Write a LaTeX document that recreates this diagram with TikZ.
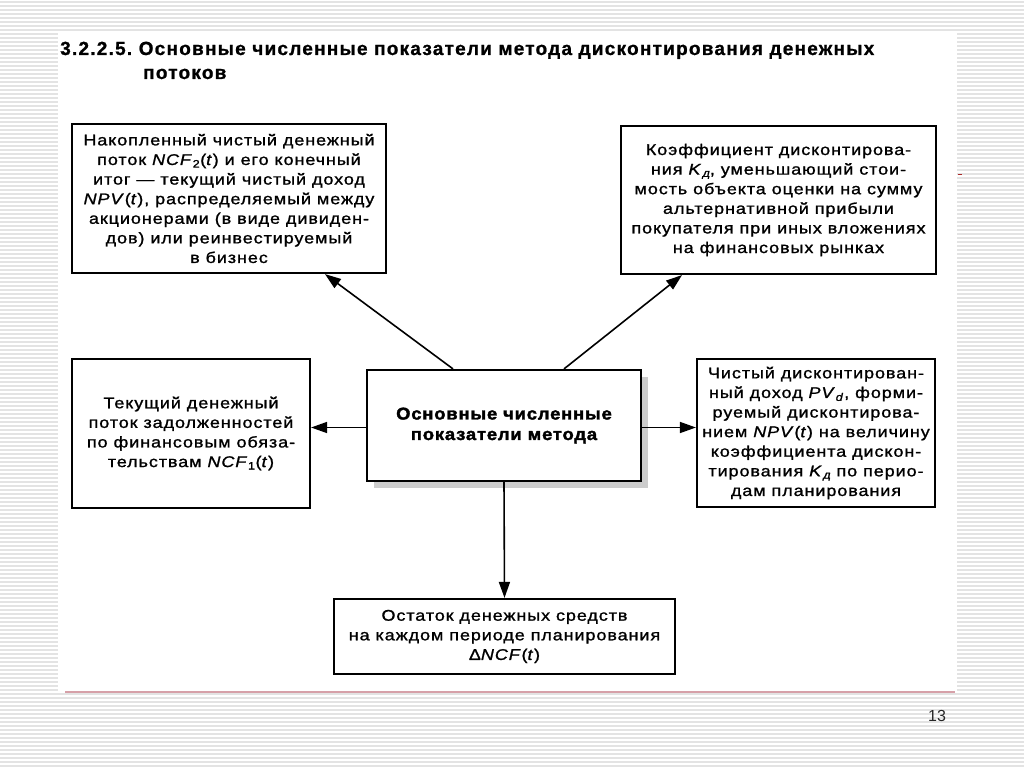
\documentclass[tikz,border=0pt]{standalone}
\usepackage{fontspec}
\setmainfont{Liberation Sans}
\newfontfamily\boxfont[LetterSpace=6,FakeStretch=1.16,FakeBold=1.2]{Liberation Sans}
\newfontfamily\headfont[LetterSpace=6.5,FakeBold=1]{Liberation Sans Bold}
\newfontfamily\ctrfont[LetterSpace=5,FakeStretch=1.08,FakeBold=2]{Liberation Sans Bold}
\newcommand\sld{{\addfontfeature{FakeSlant=0.2}д}}
\usetikzlibrary{arrows.meta,calc,shadows}

\tikzstyle{stripe}=[draw=gray!22,line width=1.5pt]
\tikzstyle{bx}=[draw,line width=2.2pt,fill=white,align=center,inner sep=0pt,
  font=\boxfont\fontsize{15.5}{19.6}\selectfont]
\tikzstyle{arr}=[-{Triangle[length=16pt,width=11pt]},line width=1.6pt]
\def\dy{2pt}

\begin{document}
\begin{tikzpicture}[x=1pt,y=-1pt]
			\useasboundingbox (0,0) rectangle (1024,767);
			\foreach \y in {2,6,...,766} {
				\draw[stripe] (0,\y) -- (1024,\y);
			}
			\fill[white] (58,33) rectangle (957,692);
			\draw[line width=2pt,color={rgb,255:red,214;green,160;blue,168}] (65,692) -- (955,692);
			\draw[line width=1pt,color={rgb,255:red,170;green,40;blue,40}] (958,175) -- (962,175);
			% title
			\node[anchor=base west,inner sep=0pt,font=\headfont\fontsize{19}{22}\selectfont] (ttl) at (60,55)
				{3.2.2.5.\ Основные численные показатели метода дисконтирования денежных};
			\node[anchor=base west,inner sep=0pt,font=\headfont\fontsize{19}{22}\selectfont] (ttl2) at (143,79) {потоков};
			% boxes
			\node[bx,minimum width=314pt,minimum height=149pt] (acc) at (229,198.5)
				{Накопленный чистый денежный\\
				поток \textit{NCF}\textsubscript{2}(\textit{t}) и его конечный\\
				итог — текущий чистый доход\\
				\textit{NPV}(\textit{t}), распределяемый между\\
				акционерами (в виде дивиден-\\
				дов) или реинвестируемый\\
				в бизнес};
			\node[bx,minimum width=315pt,minimum height=148pt] (coef) at (778.5,200)
				{Коэффициент дисконтирова-\\
				ния \textit{K}\textsubscript{\sld}, уменьшающий стои-\\
				мость объекта оценки на сумму\\
				альтернативной прибыли\\
				покупателя при иных вложениях\\
				на финансовых рынках};
			\node[bx,minimum width=238pt,minimum height=149pt] (cur) at (191,433.5)
				{Текущий денежный\\
				поток задолженностей\\
				по финансовым обяза-\\
				тельствам \textit{NCF}\textsubscript{1}(\textit{t})};
			\node[bx,minimum width=274pt,minimum height=111pt,
				drop shadow={shadow xshift=7pt,shadow yshift=-7pt,fill=gray!40,opacity=1},
				font=\ctrfont\fontsize{17}{20.5}\selectfont] (ctr) at (504,425.5)
				{Основные численные\\показатели метода};
			\node[bx,minimum width=238pt,minimum height=148pt] (disc) at (816,433)
				{Чистый дисконтирован-\\
				ный доход \textit{PV}\textsubscript{\textit{d}}, форми-\\
				руемый дисконтирова-\\
				нием \textit{NPV}(\textit{t}) на величину\\
				коэффициента дискон-\\
				тирования \textit{K}\textsubscript{\sld} по перио-\\
				дам планирования};
			\node[bx,minimum width=341pt,minimum height=75pt] (rest) at (504.5,636.5)
				{Остаток денежных средств\\
				на каждом периоде планирования\\
				Δ\textit{NCF}(\textit{t})};
			% arrows
			\draw[arr] ($(ctr.north)+(-51,0)$) -- ($(acc.south)+(96,0)$);
			\draw[arr] ($(ctr.north)+(60,0)$) -- ($(coef.south)+(-96.5,0)$);
			\draw[arr] ([yshift=-\dy]ctr.west) -- ([yshift=-\dy]ctr.west -| cur.east);
			\draw[arr] ([yshift=-\dy]ctr.east) -- ([yshift=-\dy]ctr.east -| disc.west);
			\draw[arr] (ctr.south) -- (rest.north);
			\node[font=\fontsize{16}{19}\selectfont,text=gray!30!black] (pg) at (937,716) {13};
		\end{tikzpicture}
\end{document}
